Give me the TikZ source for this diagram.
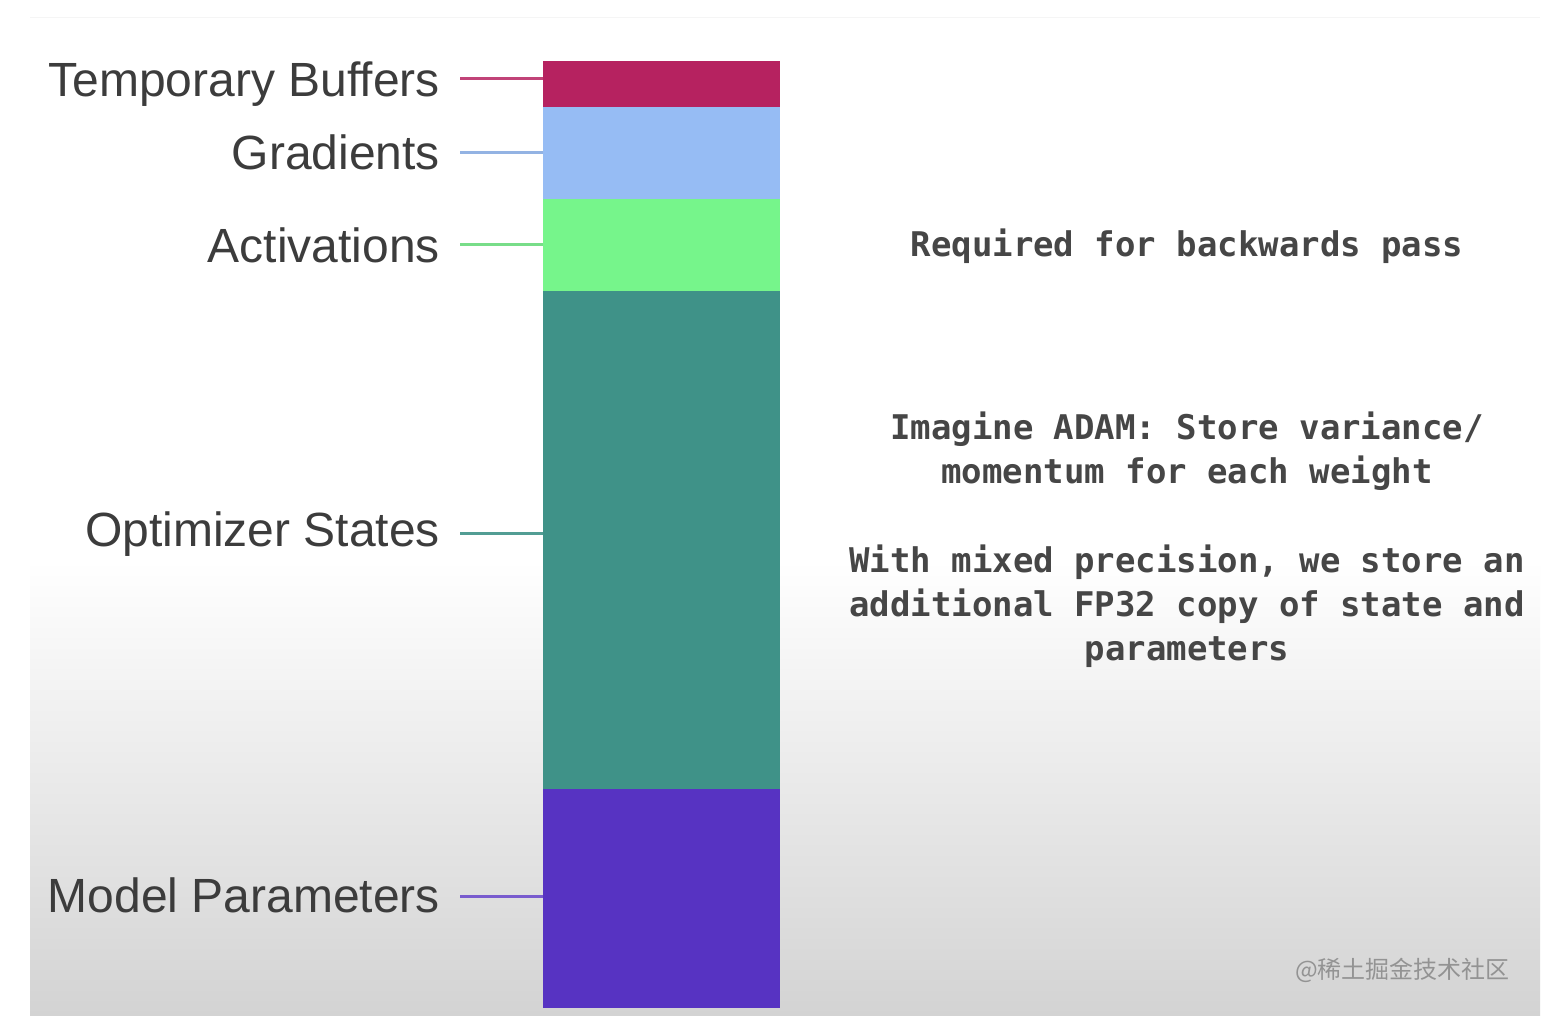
\documentclass[tikz,border=0pt]{standalone}
\usepackage{fontspec}
\setmainfont{Liberation Sans}
\setmonofont{DejaVu Sans Mono}
\newfontfamily\cjkfont{Noto Sans CJK SC}
\definecolor{ctb}{RGB}{182,34,96}
\definecolor{cgr}{RGB}{150,188,244}
\definecolor{cac}{RGB}{118,245,139}
\definecolor{cop}{RGB}{63,146,136}
\definecolor{cmp}{RGB}{87,51,194}
\definecolor{labtxt}{RGB}{60,60,60}
\definecolor{monotxt}{RGB}{70,70,70}
\definecolor{bggray}{RGB}{211,211,211}
\begin{document}
\begin{tikzpicture}[x=1pt,y=-1pt,
  seg/.style={draw=none,inner sep=0pt,minimum width=237pt,anchor=north west},
  lab/.style={inner sep=0pt,anchor=base east,text=labtxt,font=\fontsize{48}{58}\selectfont},
  conn/.style={line width=3pt},
  note/.style={inner sep=0pt,anchor=base,text=monotxt,align=center,font=\ttfamily\bfseries\fontsize{34}{44}\selectfont}]
\useasboundingbox (0,0) rectangle (1552,1016);
\fill[white] (0,0) rectangle (1552,1016);
\shade[top color=white,bottom color=bggray] (30,560) rectangle (1540,1016);
\draw[gray!8,line width=1pt] (30,18) -- (1540,18);
% bar segments
\node[seg,fill=ctb,minimum height=46pt] (tb) at (543,61) {};
\node[seg,fill=cgr,minimum height=92pt] (gr) at (543,107) {};
\node[seg,fill=cac,minimum height=92pt] (ac) at (543,199) {};
\node[seg,fill=cop,minimum height=498pt] (op) at (543,291) {};
\node[seg,fill=cmp,minimum height=219pt] (mp) at (543,789) {};
% labels
\node[lab] (ltb) at (440,97) {Temporary Buffers};
\node[lab] (lgr) at (440,170) {Gradients};
\node[lab] (lac) at (440,262) {Activations};
\node[lab] (lop) at (440,546) {Optimizer States};
\node[lab] (lmp) at (440,912) {Model Parameters};
% connector start points
\coordinate (ktb) at (460,79);
\coordinate (kgr) at (460,153);
\coordinate (kac) at (460,245);
\coordinate (kop) at (460,533);
\coordinate (kmp) at (460,896);
\draw[conn,draw=ctb!85!white] (ktb) -- (ktb -| tb.west);
\draw[conn,draw=cgr!85!gray] (kgr) -- (kgr -| gr.west);
\draw[conn,draw=cac!80!gray] (kac) -- (kac -| ac.west);
\draw[conn,draw=cop!90!white] (kop) -- (kop -| op.west);
\draw[conn,draw=cmp!80!white] (kmp) -- (kmp -| mp.west);
% notes
\node[note] (n1) at (1187,257) {Required for backwards pass};
\node[note] (n2) at (1187,483) {Imagine ADAM: Store variance/\\momentum for each weight};
\node[note] (n3) at (1187,660) {With mixed precision, we store an\\additional FP32 copy of state and\\parameters};
% watermark
\node[inner sep=0pt,anchor=east,text=gray!85,font=\cjkfont\fontsize{24}{28}\selectfont] (wm) at (1510,970) {@稀土掘金技术社区};
\end{tikzpicture}
\end{document}
